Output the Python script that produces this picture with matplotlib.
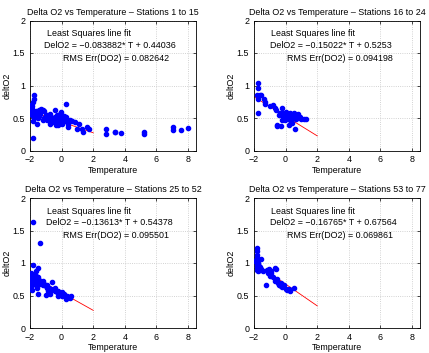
import matplotlib
matplotlib.use('Agg')
import matplotlib.pyplot as plt

plt.rcParams['font.family'] = ['Liberation Sans', 'DejaVu Sans']

# Stations 1 to 15
t1 = [-1.75, -1.75, -1.81, -1.85, -1.9, -1.79, -1.9, -1.75, -1.83, -1.81,
      -1.65, -1.58, -1.29, -1.19, -1.38, -1.12, -0.92, -0.75, -0.81, -0.71,
      -0.5, -0.44, -0.4, -0.25, -0.18, -0.12, -0.1, -0.02, 0.0, 0.1,
      0.2, 0.3, 0.28, 0.4, 0.42, 0.64, 0.85, 1.12, 0.95, 1.26,
      1.33, 1.62, 1.74, 2.78, 2.78, 3.38, 3.38, 3.76, 5.21, 5.21,
      7.04, 7.04, 7.54, 7.98, -1.95, -1.88, -1.7, -1.6, -1.5, -1.45,
      -1.0, -0.9, -0.6, -0.3, -0.35, -0.05, 0.15, 0.05, -1.92, -1.85,
      -1.2, -0.65, -0.2, 0.5, -1.4, -1.1]
d1 = [0.85, 0.79, 0.74, 0.68, 0.64, 0.59, 0.54, 0.50, 0.46, 0.19,
      0.56, 0.41, 0.64, 0.62, 0.56, 0.50, 0.54, 0.56, 0.49, 0.41,
      0.44, 0.63, 0.52, 0.47, 0.53, 0.45, 0.56, 0.59, 0.41, 0.49,
      0.46, 0.51, 0.72, 0.41, 0.36, 0.46, 0.44, 0.41, 0.33, 0.33,
      0.29, 0.36, 0.33, 0.33, 0.25, 0.29, 0.28, 0.27, 0.28, 0.25,
      0.36, 0.32, 0.32, 0.34, 0.60, 0.62, 0.60, 0.61, 0.50, 0.53,
      0.54, 0.47, 0.48, 0.55, 0.40, 0.50, 0.53, 0.44, 0.70, 0.57,
      0.47, 0.52, 0.40, 0.47, 0.62, 0.61]

# Stations 16 to 24
t2 = [-1.75, -1.75, -1.8, -1.65, -1.75, -1.53, -1.75, -1.35, -1.3, -1.28,
      -0.8, -0.65, -0.6, -0.37, -0.2, -0.16, -0.52, -0.55, -0.3, -0.16,
      -0.05, 0.0, 0.16, 0.26, 0.37, 0.47, 0.58, 0.68, 0.68, 0.37,
      0.42, 0.58, 1.0, 1.15, 1.3, -0.1, 0.05, 0.8, 0.9, 0.2,
      -1.0, -0.45, -0.25, 0.3, 0.5]
d2 = [1.04, 0.96, 0.86, 0.86, 0.79, 0.86, 0.58, 0.79, 0.75, 0.72,
      0.70, 0.66, 0.63, 0.58, 0.65, 0.58, 0.40, 0.37, 0.37, 0.52,
      0.47, 0.60, 0.55, 0.47, 0.52, 0.55, 0.50, 0.53, 0.48, 0.45,
      0.42, 0.33, 0.49, 0.49, 0.49, 0.52, 0.50, 0.56, 0.52, 0.40,
      0.68, 0.55, 0.47, 0.57, 0.58]

# Stations 25 to 52
t3 = [-1.81, -1.34, -1.81, -1.51, -1.61, -1.51, -0.97, -1.85, -0.76, -1.17,
      -0.6, -1.95, -1.9, -1.88, -1.92, -1.85, -1.8, -1.75, -1.7, -1.72,
      -1.65, -1.6, -1.55, -1.62, -1.5, -1.45, -1.4, -1.35, -1.3, -1.2,
      -1.1, -1.0, -0.95, -0.9, -0.8, -0.7, -0.65, -0.5, -0.45, -0.4,
      -0.3, -0.2, -0.1, 0.0, 0.05, 0.15, 0.25, 0.35, 0.45, 0.55,
      0.6, -1.98, -1.93, -1.55, -0.85, -0.25, 0.3]
d3 = [1.63, 1.31, 0.97, 0.92, 0.88, 0.53, 0.51, 0.58, 0.53, 0.73,
      0.71, 0.85, 0.80, 0.76, 0.72, 0.70, 0.82, 0.78, 0.74, 0.68,
      0.80, 0.76, 0.72, 0.66, 0.78, 0.70, 0.74, 0.67, 0.70, 0.66,
      0.68, 0.64, 0.62, 0.66, 0.62, 0.60, 0.58, 0.60, 0.57, 0.62,
      0.55, 0.57, 0.52, 0.55, 0.50, 0.52, 0.47, 0.50, 0.48, 0.46,
      0.50, 0.78, 0.65, 0.62, 0.57, 0.50, 0.45]

# Stations 53 to 77
t4 = [-1.82, -1.82, -1.8, -1.82, -1.78, -1.8, -1.78, -1.82, -1.75, -1.8,
      -1.72, -1.7, -1.68, -1.75, -2.0, -1.53, -1.53, -1.6, -1.65, -1.2,
      -1.07, -0.7, -0.6, -1.26, -1.0, -0.8, -0.7, -0.5, -0.4, -0.3,
      -0.2, -0.3, 0.0, 0.1, 0.2, 0.3, 0.54, -0.9, -1.1, -0.55,
      -0.1, -1.4, -0.95]
d4 = [1.23, 1.18, 1.13, 1.08, 1.05, 1.00, 0.97, 0.94, 0.92, 0.90,
      0.88, 0.95, 0.92, 1.00, 1.03, 1.06, 0.91, 0.94, 0.90, 0.90,
      0.91, 0.92, 0.91, 0.66, 0.80, 0.78, 0.73, 0.70, 0.66, 0.65,
      0.63, 0.70, 0.60, 0.58, 0.60, 0.57, 0.61, 0.85, 0.84, 0.75,
      0.66, 0.88, 0.88]

titles = ['Delta O2 vs Temperature \u2013 Stations 1 to 15',
          'Delta O2 vs Temperature \u2013 Stations 16 to 24',
          'Delta O2 vs Temperature \u2013 Stations 25 to 52',
          'Delta O2 vs Temperature \u2013 Stations 53 to 77']
slopes = [-0.083882, -0.15022, -0.13613, -0.16765]
intercepts = [0.44036, 0.5253, 0.54378, 0.67564]
slope_txt = ['\u22120.083882', '\u22120.15022', '\u22120.13613', '\u22120.16765']
icpt_txt = ['0.44036', '0.5253', '0.54378', '0.67564']
rms_txt = ['0.082642', '0.094198', '0.095501', '0.069861']
fit_range = [-2, 2]

temps = [t1, t2, t3, t4]
delts = [d1, d2, d3, d4]

fig = plt.figure(figsize=(4.29, 3.53), dpi=100)
W, H = 429.0, 353.0
lefts = [30, 254, 30, 254]
bottoms = [150.5, 150.5, 328, 328]
aw, ah = 166, 130

fs = 6.4
for i in range(4):
    ax = fig.add_axes([lefts[i] / W, 1 - bottoms[i] / H, aw / W, ah / H])
    ax.plot(fit_range, [slopes[i] * x + intercepts[i] for x in fit_range],
            color='red', lw=0.6, zorder=2)
    ax.plot(temps[i], delts[i], 'o', color='blue', ms=3.0, mec='blue', zorder=3)
    ax.set_xlim(-2, 8.5)
    ax.set_ylim(0, 2)
    ax.set_xticks([-2, 0, 2, 4, 6, 8])
    ax.set_yticks([0, 0.5, 1, 1.5, 2])
    ax.set_yticklabels(['0', '0.5', '1', '1.5', '2'])
    ax.grid(True, ls=':', color='#c4c4c4', lw=0.6)
    ax.tick_params(direction='in', length=2.5, width=0.5, labelsize=fs,
                   top=True, right=True)
    ax.tick_params(axis='x', pad=3.5)
    ax.tick_params(axis='y', pad=3.5)
    for sp in ax.spines.values():
        sp.set_linewidth(0.6)
    ax.set_title(titles[i], fontsize=fs, pad=4)
    ax.set_xlabel('Temperature', fontsize=fs, labelpad=1)
    ax.set_ylabel('deltO2', fontsize=fs, labelpad=1)
    ax.text(-0.95, 1.8, 'Least Squares line fit', fontsize=fs, va='center')
    ax.text(-1.1 if i == 0 else -0.97, 1.62,
            'DelO2 = ' + slope_txt[i] + '* T + ' + icpt_txt[i],
            fontsize=fs, va='center')
    ax.text(0.08, 1.42, 'RMS Err(DO2) = ' + rms_txt[i], fontsize=fs, va='center')

fig.savefig('out.png', dpi=100)
